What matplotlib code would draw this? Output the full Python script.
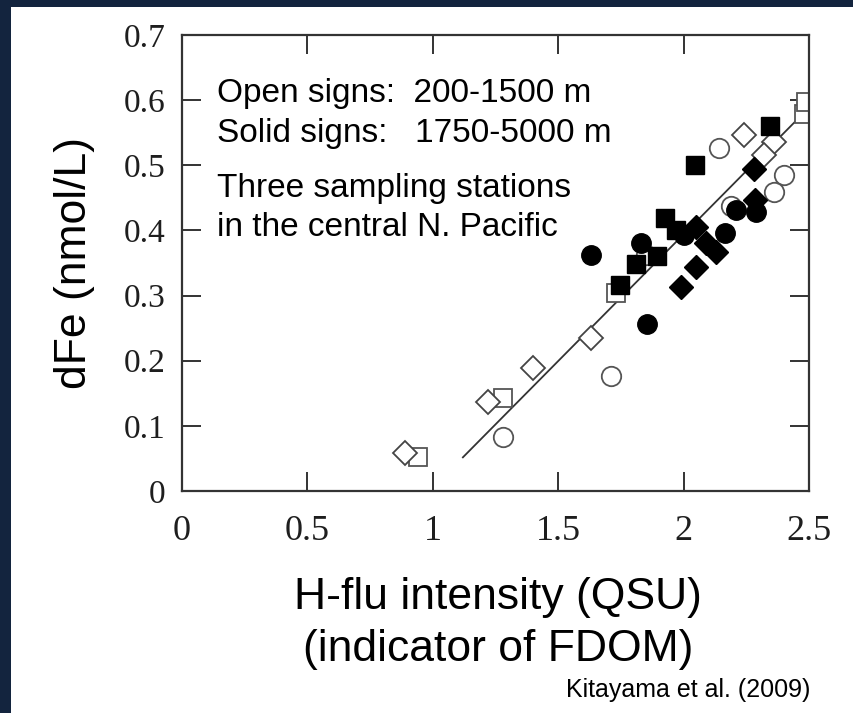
import matplotlib
matplotlib.use("Agg")
import matplotlib.pyplot as plt
from matplotlib.patches import Rectangle

# dFe vs humic-like fluorescence, open = 200-1500 m, solid = 1750-5000 m
open_circle_x = [1.28, 1.71, 2.14, 2.40, 2.36, 2.19, 1.85]
open_circle_y = [0.083, 0.177, 0.527, 0.485, 0.459, 0.437, 0.363]
open_square_x = [0.94, 1.28, 1.73, 2.48, 2.49]
open_square_y = [0.052, 0.143, 0.304, 0.578, 0.597]
open_diamond_x = [0.89, 1.22, 1.40, 1.63, 2.24, 2.36, 2.32]
open_diamond_y = [0.058, 0.137, 0.189, 0.235, 0.546, 0.535, 0.516]

solid_circle_x = [1.63, 1.83, 1.855, 2.00, 2.165, 2.21, 2.29]
solid_circle_y = [0.363, 0.381, 0.256, 0.393, 0.396, 0.432, 0.428]
solid_square_x = [1.745, 1.81, 1.895, 1.925, 2.045, 2.345, 1.97]
solid_square_y = [0.316, 0.349, 0.361, 0.419, 0.501, 0.560, 0.400]
solid_diamond_x = [1.99, 2.05, 2.05, 2.09, 2.13, 2.28, 2.285]
solid_diamond_y = [0.313, 0.344, 0.406, 0.381, 0.367, 0.495, 0.447]

# regression line
fit_x = [1.12, 2.48]
fit_slope = 0.389
fit_icpt = -0.384

xticks = [0, 0.5, 1, 1.5, 2, 2.5]
xtick_labels = ["0", "0.5", "1", "1.5", "2", "2.5"]
yticks = [0, 0.1, 0.2, 0.3, 0.4, 0.5, 0.6, 0.7]
ytick_labels = ["0", "0.1", "0.2", "0.3", "0.4", "0.5", "0.6", "0.7"]

navy = "#13243e"
ink = "#1e1e1e"

fig = plt.figure(figsize=(8.54, 7.13), dpi=100)
fig.patch.set_facecolor(navy)
fig.patches.append(Rectangle((11 / 854, 0), 1, 1 - 7 / 713, transform=fig.transFigure,
                             facecolor="white", edgecolor="none", zorder=-5))

ax = fig.add_axes([182 / 854, 1 - 491 / 713, 627 / 854, 456 / 713])
ax.set_zorder(2)
ax.set_xlim(0, 2.5)
ax.set_ylim(0, 0.7)

fy = [fit_slope * x + fit_icpt for x in fit_x]
ax.plot(fit_x, fy, color="#333333", lw=1.3, zorder=1)

ms_c, ms_s, ms_d = 14, 13.5, 12
ax.plot(solid_square_x, solid_square_y, "s", ms=ms_s, color="black", mec="black", zorder=3)
ax.plot(solid_circle_x, solid_circle_y, "o", ms=ms_c, color="black", mec="black", zorder=3)
ax.plot(solid_diamond_x, solid_diamond_y, "D", ms=ms_d, color="black", mec="black", zorder=3)
ax.plot(open_square_x, open_square_y, "s", ms=ms_s, mfc="white", mec="#555555", mew=1.3, zorder=2)
ax.plot(open_circle_x, open_circle_y, "o", ms=ms_c, mfc="white", mec="#555555", mew=1.3, zorder=2)
ax.plot(open_diamond_x, open_diamond_y, "D", ms=ms_d, mfc="white", mec="#444444", mew=1.3, zorder=2)

ax.set_xticks(xticks)
ax.set_xticklabels(xtick_labels)
ax.set_yticks(yticks)
ax.set_yticklabels(ytick_labels)
ax.tick_params(direction="in", length=14, width=1.4, color="#333333", top=True, right=True,
               labelcolor=ink)
ax.tick_params(axis="x", pad=17, labelsize=26)
ax.tick_params(axis="y", pad=12, labelsize=24)
for lab in ax.get_xticklabels() + ax.get_yticklabels():
    lab.set_family("Liberation Serif")
for s in ax.spines.values():
    s.set_linewidth(1.6)
    s.set_color("#333333")

sans = "Liberation Sans"
ax.text(0.14, 0.610, "Open signs:  200-1500 m", fontsize=24, family=sans, va="center", color="black")
ax.text(0.14, 0.549, "Solid signs:   1750-5000 m", fontsize=24, family=sans, va="center", color="black")
ax.text(0.14, 0.465, "Three sampling stations", fontsize=24, family=sans, va="center", color="black")
ax.text(0.14, 0.405, "in the central N. Pacific", fontsize=24, family=sans, va="center", color="black")

fig.text(75 / 854, 1 - 263 / 713, "dFe (nmol/L)", rotation=90, fontsize=32, family=sans,
         ha="center", va="center", color="black")
fig.text(498 / 854, 1 - 598 / 713, "H-flu intensity (QSU)", fontsize=32, family=sans,
         ha="center", va="center", color="black")
fig.text(498 / 854, 1 - 650 / 713, "(indicator of FDOM)", fontsize=32, family=sans,
         ha="center", va="center", color="black")
fig.text(810 / 854, 1 - 690 / 713, "Kitayama et al. (2009)", fontsize=18, family=sans,
         ha="right", va="center", color="black")

fig.savefig("out.png", dpi=100, facecolor=fig.get_facecolor())
